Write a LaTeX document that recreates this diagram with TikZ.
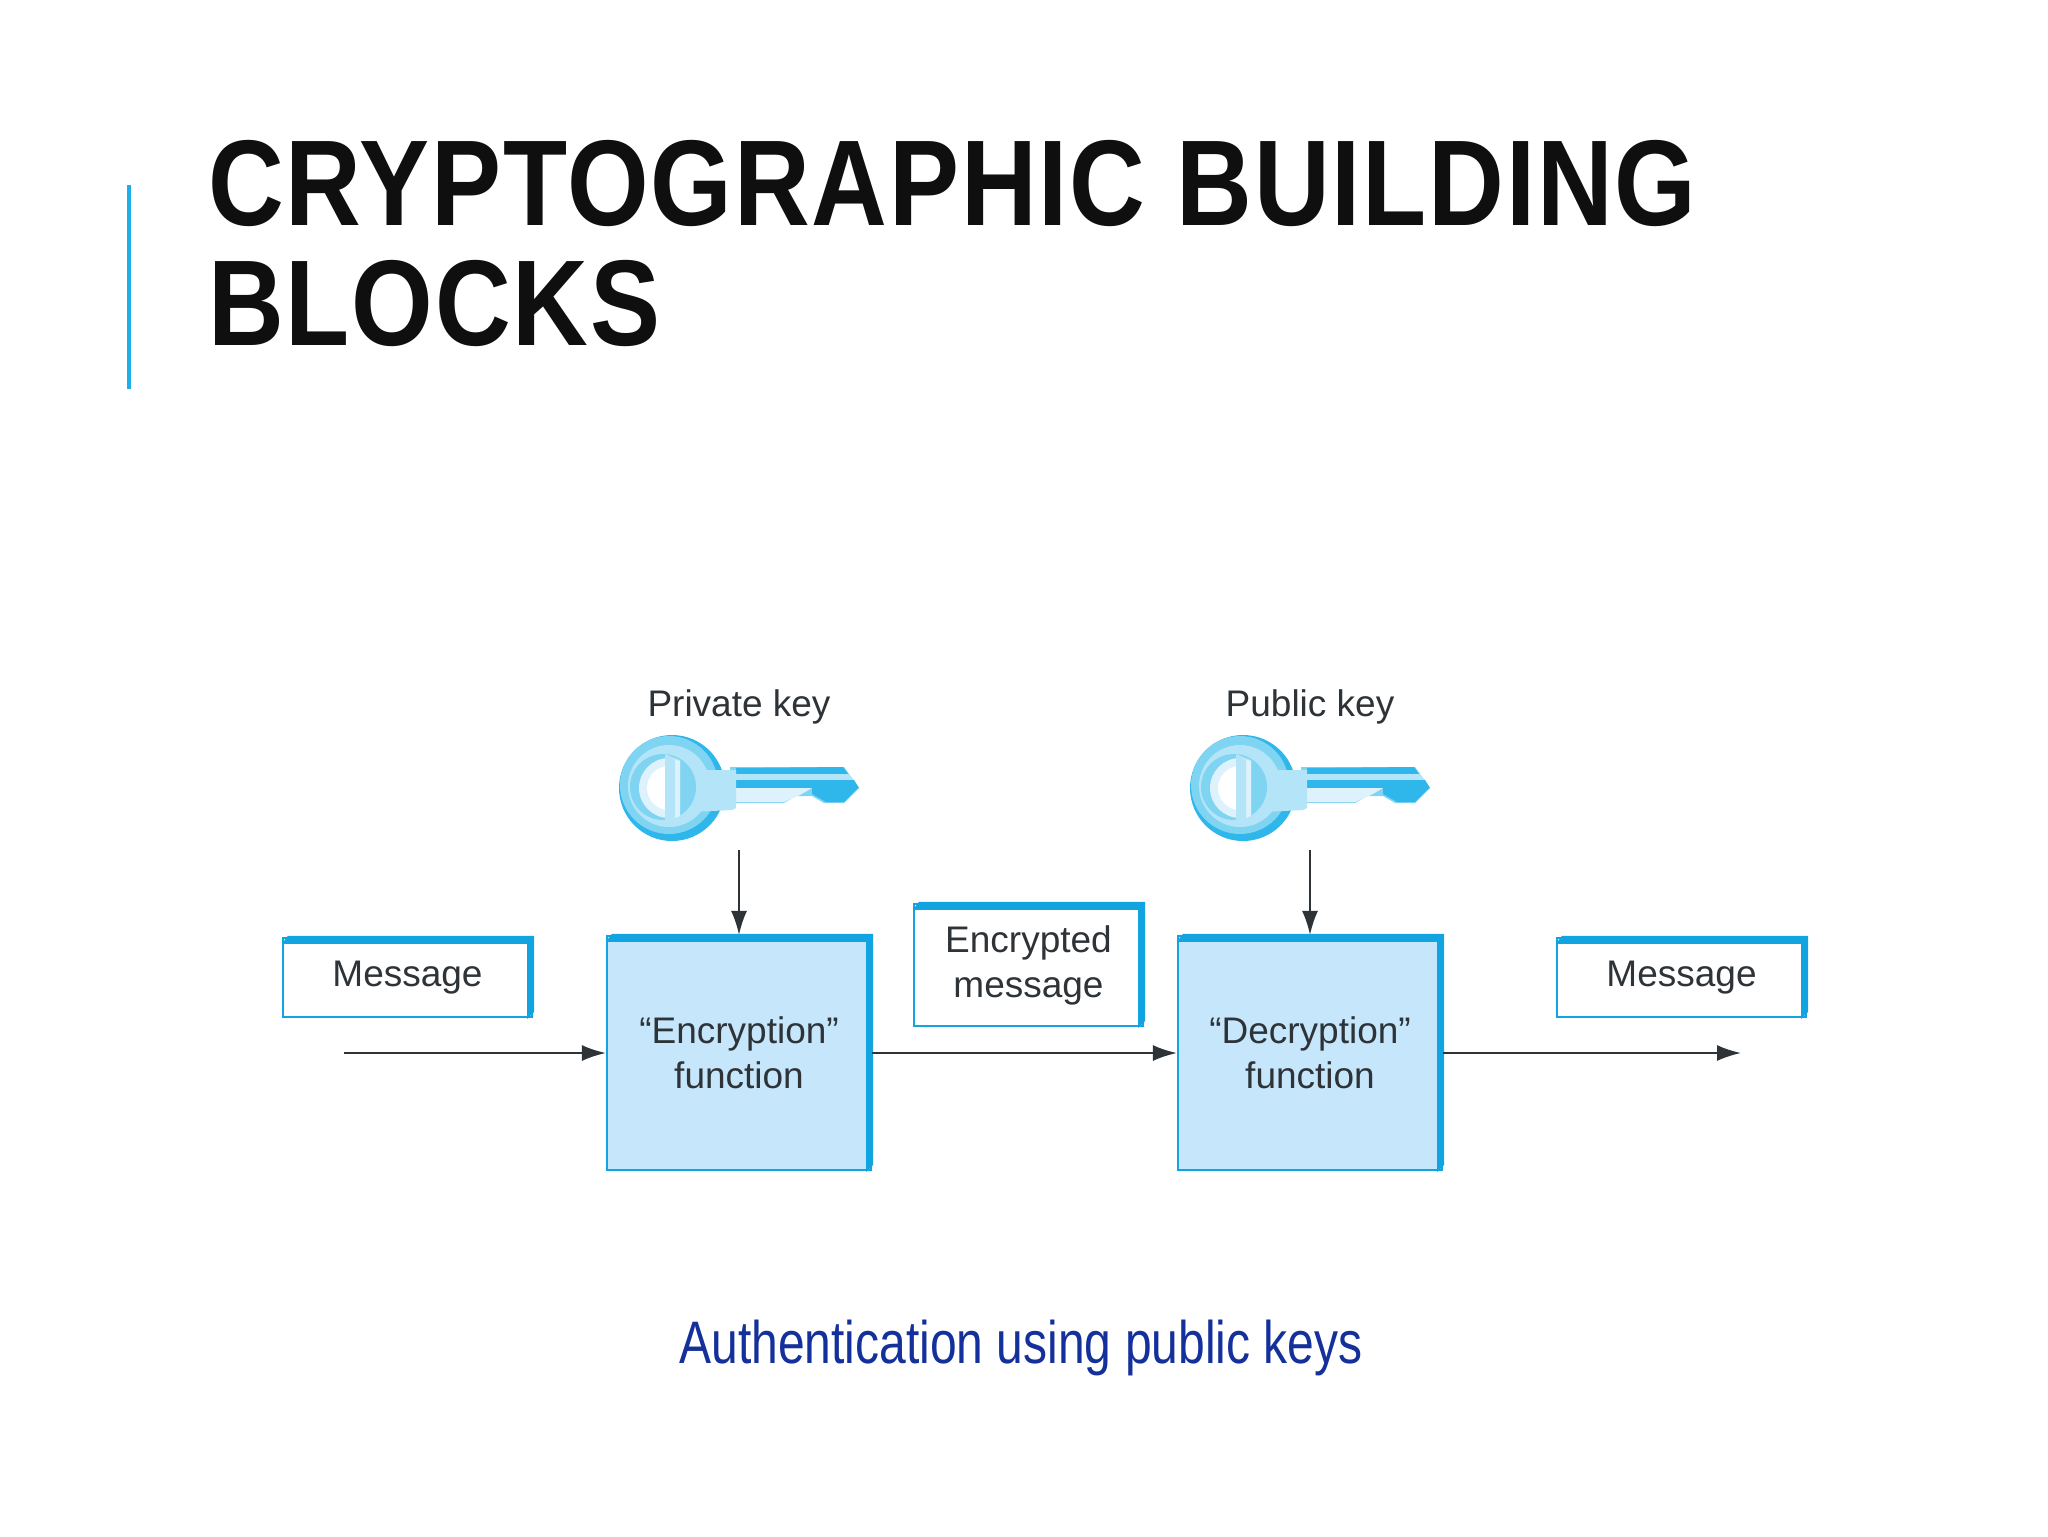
\documentclass[tikz,border=0pt]{standalone}
\usepackage{fontspec}
\setmainfont{Liberation Sans}
\newfontfamily\titlefont[FakeStretch=0.86,LetterSpace=1.5]{Liberation Sans Bold}
\newfontfamily\capfont[FakeStretch=0.8]{Liberation Sans}
\usetikzlibrary{arrows.meta,shapes.geometric,calc}
\definecolor{edgeblue}{HTML}{12A4E0}
\definecolor{boxfill}{HTML}{C6E7FB}
\definecolor{barblue}{HTML}{1CB0EA}
\definecolor{inkgray}{HTML}{2E3338}
\definecolor{capblue}{HTML}{14309A}
\definecolor{keymid}{HTML}{7FD4F2}
\definecolor{keydark}{HTML}{2FB6EA}
\definecolor{keylight}{HTML}{B4E4F8}
\definecolor{keypale}{HTML}{DDF2FC}
\tikzset{
  x=0.5pt,y=-0.5pt,
  flowbox/.style={draw=edgeblue,line width=1.1pt,fill=boxfill,text=inkgray,font=\fontsize{18.5pt}{22.5pt}\selectfont,align=center,inner sep=0pt,minimum width=132pt,minimum height=117pt},
  msgbox/.style={draw=edgeblue,line width=1.1pt,fill=white,text=inkgray,font=\fontsize{18.5pt}{22.5pt}\selectfont,align=center,inner sep=0pt},
  keylabel/.style={text=inkgray,font=\fontsize{18.5pt}{22pt}\selectfont,inner sep=0pt},
  flow/.style={draw=inkgray,line width=1pt,-{Latex[length=12pt,width=8pt]},shorten >=0pt},
  keyshape/.pic={
    % blade
    \fill[keymid] (58,-21) -- (172,-21) -- (187,0) -- (172,15) -- (152,15) -- (140,8) -- (124,8) -- (112,15) -- (64,15) -- (58,18) -- cycle;
    \fill[keydark] (64,-20) -- (171,-21) -- (176,-14) -- (64,-14) -- cycle;
    \fill[keylight] (64,-14) -- (176,-14) -- (182,-8) -- (64,-8) -- cycle;
    \fill[keydark] (64,-8) -- (182,-8) -- (187,0) -- (64,0) -- cycle;
    \fill[keypale] (64,0) -- (140,0) -- (128,7) -- (112,14) -- (64,14) -- cycle;
    \fill[keydark] (140,0) -- (186,0) -- (172,14) -- (154,14) -- (140,6) -- cycle;
    % bow
    \fill[keydark] (0,0) circle[radius=53];
    \fill[keymid] (-3,-3) circle[radius=49];
    \fill[keylight] (-3,-2) circle[radius=41];
    \fill[keylight] (20,-18) -- (64,-18) -- (64,20) -- (60,22) -- (20,24) -- cycle;
    \fill[keymid] (-9,-1) circle[radius=33];
    \begin{scope}
      \clip (-45,-40) rectangle (-7,40);
      \fill[keypale] (-3,0) circle[radius=30];
      \fill[white] (-3,0) circle[radius=22];
    \end{scope}
    \fill[keylight] (-7,-34) -- (8,-28) -- (8,28) -- (-7,36) -- cycle;
    \fill[keypale] (-2,-30) -- (8,-27) -- (8,28) -- (-2,32) -- cycle;
    \fill[keylight] (-2,-30) -- (3,-28) -- (3,30) -- (-2,32) -- cycle;
  }
}
\newcommand{\bevelbox}[1]{%
  \fill[edgeblue] ($(#1.north west)+(0,7)$) -- ($(#1.north west)+(6,-1)$) -- ($(#1.north east)+(1,-1)$) -- ($(#1.south east)+(1,-6)$) -- ($(#1.south east)+(-6,1)$) -- ($(#1.south east)+(-6,0)$) -- ($(#1.north east)+(-6,7)$) -- cycle;}
\begin{document}
\begin{tikzpicture}
\useasboundingbox (0,0) rectangle (2048,1536);
\fill[white] (0,0) rectangle (2048,1536);
\fill[barblue] (127,185) rectangle (131,389);

\node[anchor=north west,inner sep=0pt,text=black!94,align=left,font=\titlefont\fontsize{61pt}{60pt}\selectfont] (title) at (208,140) {CRYPTOGRAPHIC BUILDING\\BLOCKS};

% boxes
\node[msgbox,minimum width=124.5pt,minimum height=39.5pt] (msg1) at (407.5,977.5) {Message};
\node[flowbox] (enc) at (739,1053) {“Encryption”\\function};
\node[msgbox,minimum width=114.5pt,minimum height=61pt] (emsg) at (1028.5,965) {Encrypted\\message};
\node[flowbox] (dec) at (1310,1053) {“Decryption”\\function};
\node[msgbox,minimum width=124.5pt,minimum height=39.5pt] (msg2) at (1681.5,977.5) {Message};
\bevelbox{msg1}\bevelbox{enc}\bevelbox{emsg}\bevelbox{dec}\bevelbox{msg2}

% keys
\pic at (672,788) {keyshape};
\pic at (1243,788) {keyshape};
\node[keylabel] (prv) at (739,707) {Private key};
\node[keylabel] (pub) at (1310,707) {Public key};

% connectors
\coordinate (kp) at (739,850);
\coordinate (kq) at (1310,850);
\coordinate (in) at (344,1053);
\coordinate (out) at (1741,1053);
\draw[flow] (kp) -- (enc.north);
\draw[flow] (kq) -- (dec.north);
\draw[flow] (in) -- (enc.west);
\draw[flow] (enc.east) -- (dec.west);
\draw[flow] (dec.east) -- (out);

\node[inner sep=0pt,text=capblue,font=\capfont\fontsize{30pt}{36pt}\selectfont] (cap) at (1021,1348) {Authentication using public keys};
\end{tikzpicture}
\end{document}
